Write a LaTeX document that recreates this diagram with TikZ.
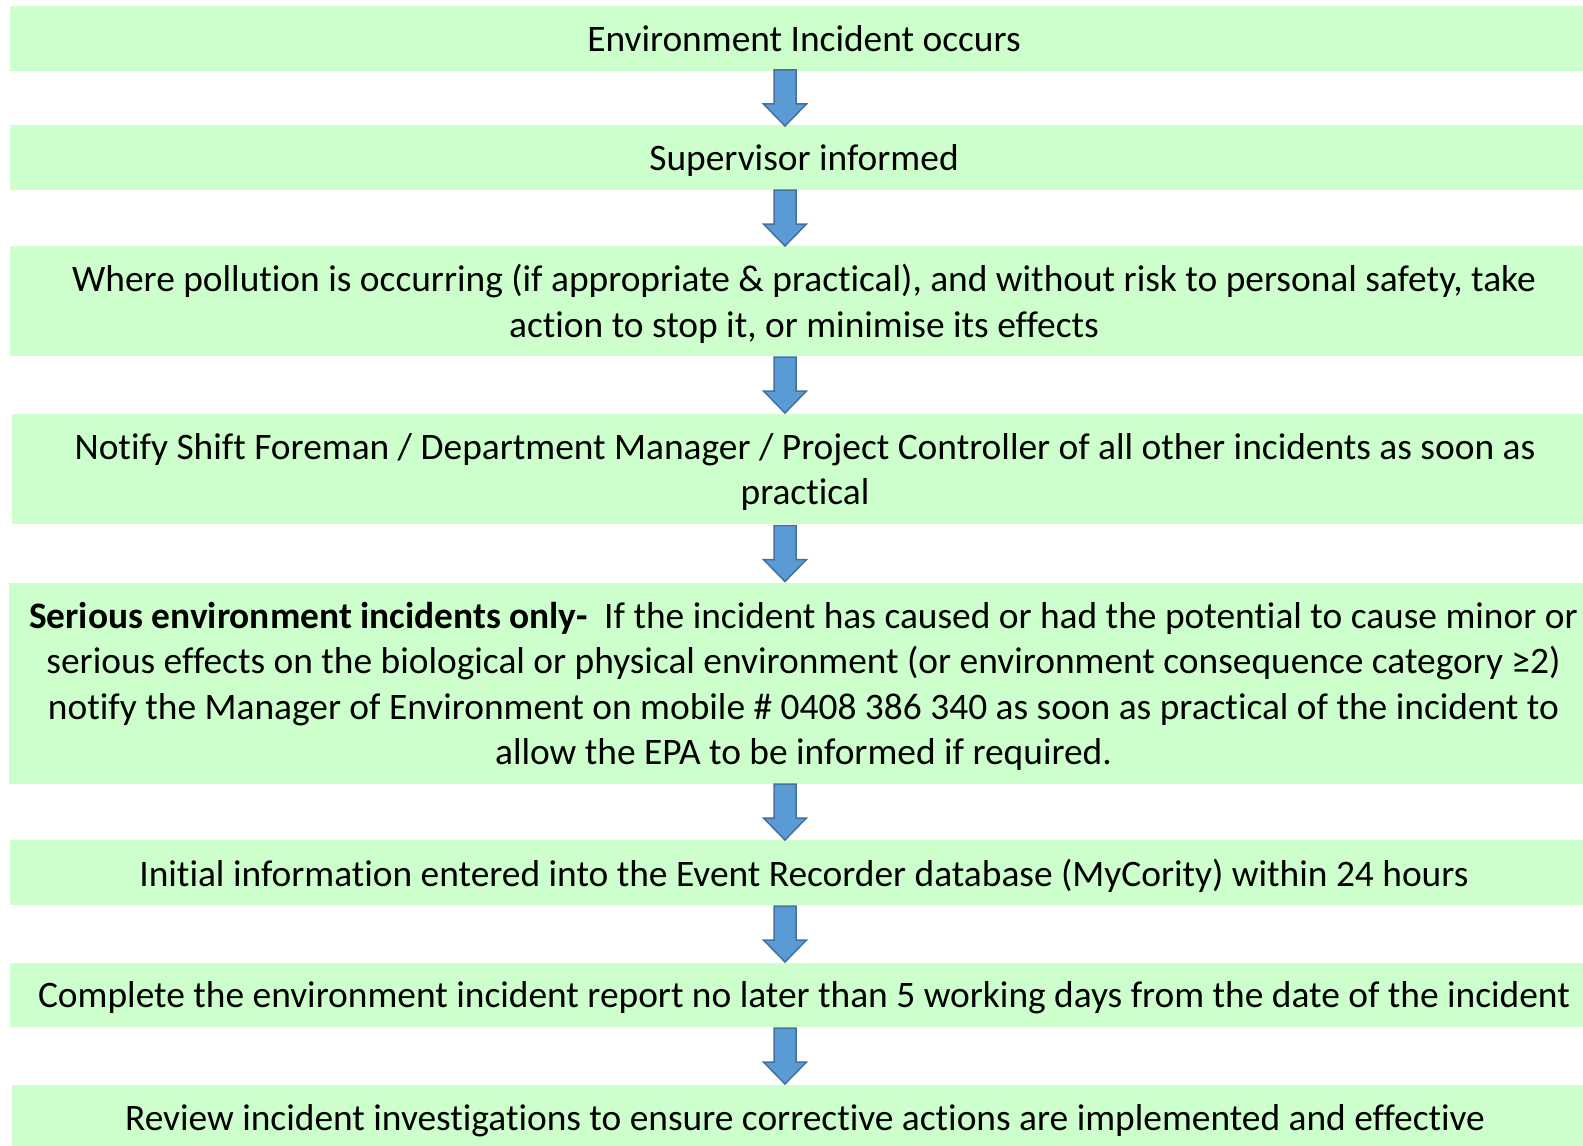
\documentclass[tikz,border=0pt]{standalone}
\usepackage{fontspec}
\setmainfont{Carlito}[Ligatures=NoCommon]
\usetikzlibrary{calc}
\definecolor{boxgreen}{HTML}{CCFFCC}
\definecolor{arrowfill}{HTML}{5B9BD5}
\definecolor{arrowline}{HTML}{41719C}
\newcommand{\flowarrow}[2]{%
  \path ($(#1.south -| ax)!0.5!(#2.north -| ax)$) coordinate (mid) ++(0,-28) coordinate (top) (mid) ++(0,28) coordinate (tip);
  \draw[arrowbox] ($(top)+(-11,0)$) -- ($(tip)+(-11,-22)$) -- ($(tip)+(-21.5,-22)$) -- (tip)
    -- ($(tip)+(21.5,-22)$) -- ($(tip)+(11,-22)$) -- ($(top)+(11,0)$) -- cycle;}
\begin{document}
\begin{tikzpicture}[x=0.5pt,y=-0.5pt,
    stepbox/.style={fill=boxgreen,inner sep=0,minimum width=794pt,align=center,text depth=0pt,
      font=\fontsize{18.7}{22.7}\selectfont},
    arrowbox/.style={fill=arrowfill,draw=arrowline,line width=0.75pt,line join=miter}]
  \useasboundingbox (0,0) rectangle (1583,1145);
  \coordinate (ax) at (785,0);
  \node[stepbox,minimum height=32.5pt] (b1) at (804,38.5) {Environment Incident occurs};
  \node[stepbox,minimum height=32.5pt] (b2) at (804,157.5) {Supervisor informed};
  \node[stepbox,minimum height=55pt] (b3) at (804,301) {Where pollution is occurring (if appropriate \& practical), and without risk to personal safety, take\\ action to stop it, or minimise its effects};
  \node[stepbox,minimum height=55pt,minimum width=793pt] (b4) at (805,469) {Notify Shift Foreman / Department Manager / Project Controller of all other incidents as soon as\\ practical};
  \node[stepbox,minimum height=100.5pt,minimum width=794.5pt] (b5) at (803.5,683.5) {\textbf{Serious environment incidents only-}\ \ If the incident has caused or had the potential to cause minor or\\ serious effects on the biological or physical environment (or environment consequence category ≥2)\\ notify the Manager of Environment on mobile \# 0408 386 340 as soon as practical of the incident to\\ allow the EPA to be informed if required.};
  \node[stepbox,minimum height=32.5pt] (b6) at (804,872.5) {Initial information entered into the Event Recorder database (MyCority) within 24 hours};
  \node[stepbox,minimum height=32pt] (b7) at (804,995) {Complete the environment incident report no later than 5 working days from the date of the incident};
  \node[stepbox,minimum height=32.5pt,minimum width=793pt] (b8) at (805,1117.5) {Review incident investigations to ensure corrective actions are implemented and effective};
  \flowarrow{b1}{b2}
  \flowarrow{b2}{b3}
  \flowarrow{b3}{b4}
  \flowarrow{b4}{b5}
  \flowarrow{b5}{b6}
  \flowarrow{b6}{b7}
  \flowarrow{b7}{b8}
\end{tikzpicture}
\end{document}
